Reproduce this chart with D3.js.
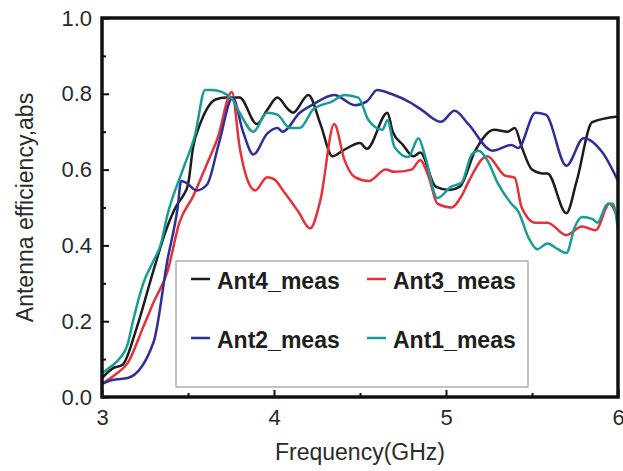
<!DOCTYPE html>
<html>
<head>
<meta charset="utf-8">
<script src="https://cdn.jsdelivr.net/npm/d3@7"></script>
<style>
  body { margin: 0; background: #fff; }
  svg { display: block; font-family: "Liberation Sans", Arial, sans-serif; }
  .tick text { fill: #2a2a2a; font-size: 22px; }
</style>
</head>
<body>
<div id="chart"></div>
<script>
// frequency (GHz) / efficiency pairs
var ant4 = [
  [3.00,0.05],[3.06,0.075],[3.12,0.085],[3.20,0.18],[3.30,0.335],[3.38,0.45],[3.44,0.51],
  [3.47,0.53],[3.50,0.56],[3.53,0.66],[3.57,0.72],[3.61,0.76],[3.66,0.785],[3.72,0.79],
  [3.80,0.79],[3.90,0.72],[3.96,0.757],[4.02,0.79],[4.08,0.76],[4.11,0.75],[4.20,0.797],
  [4.27,0.72],[4.34,0.635],[4.40,0.65],[4.50,0.67],[4.54,0.655],[4.66,0.75],[4.69,0.70],
  [4.75,0.665],[4.81,0.635],[4.85,0.645],[4.94,0.555],[5.02,0.546],[5.08,0.555],[5.17,0.65],
  [5.28,0.705],[5.36,0.70],[5.40,0.71],[5.44,0.66],[5.50,0.60],[5.56,0.59],[5.59,0.59],
  [5.70,0.485],[5.76,0.57],[5.85,0.725],[6.00,0.74]
];
var ant3 = [
  [3.00,0.035],[3.08,0.06],[3.15,0.09],[3.24,0.185],[3.30,0.25],[3.38,0.33],[3.45,0.46],
  [3.53,0.53],[3.61,0.615],[3.67,0.68],[3.755,0.805],[3.80,0.66],[3.84,0.58],[3.89,0.545],
  [3.96,0.58],[4.00,0.575],[4.06,0.54],[4.14,0.49],[4.21,0.445],[4.27,0.52],[4.35,0.72],
  [4.41,0.625],[4.47,0.58],[4.55,0.57],[4.65,0.60],[4.70,0.594],[4.80,0.60],[4.85,0.625],
  [4.90,0.58],[4.95,0.51],[5.03,0.50],[5.09,0.53],[5.13,0.567],[5.24,0.635],[5.34,0.585],
  [5.40,0.578],[5.44,0.50],[5.52,0.46],[5.59,0.46],[5.70,0.427],[5.79,0.45],[5.87,0.44],
  [5.95,0.51],[6.00,0.47]
];
var ant2 = [
  [3.00,0.035],[3.06,0.045],[3.15,0.05],[3.30,0.145],[3.38,0.36],[3.44,0.50],[3.46,0.57],
  [3.49,0.565],[3.55,0.545],[3.61,0.56],[3.68,0.67],[3.76,0.79],[3.82,0.70],[3.88,0.64],
  [3.96,0.695],[4.02,0.71],[4.05,0.70],[4.15,0.75],[4.22,0.77],[4.35,0.797],[4.47,0.77],
  [4.54,0.78],[4.60,0.81],[4.68,0.80],[4.80,0.775],[4.86,0.757],[4.97,0.726],[5.05,0.755],
  [5.13,0.72],[5.27,0.65],[5.38,0.665],[5.42,0.657],[5.52,0.75],[5.58,0.745],[5.70,0.61],
  [5.80,0.683],[5.91,0.645],[6.00,0.57]
];
var ant1 = [
  [3.00,0.063],[3.05,0.08],[3.10,0.10],[3.15,0.14],[3.18,0.20],[3.24,0.30],[3.30,0.36],
  [3.34,0.40],[3.38,0.48],[3.47,0.60],[3.54,0.69],[3.60,0.81],[3.64,0.81],[3.75,0.79],
  [3.80,0.75],[3.88,0.70],[3.96,0.75],[4.02,0.745],[4.09,0.71],[4.15,0.71],[4.23,0.76],
  [4.34,0.78],[4.41,0.797],[4.49,0.79],[4.55,0.73],[4.63,0.705],[4.66,0.73],[4.70,0.66],
  [4.78,0.633],[4.84,0.683],[4.88,0.633],[4.95,0.525],[5.03,0.555],[5.09,0.565],[5.15,0.64],
  [5.19,0.65],[5.24,0.625],[5.30,0.565],[5.38,0.51],[5.42,0.49],[5.48,0.42],[5.53,0.39],
  [5.59,0.405],[5.65,0.39],[5.70,0.38],[5.75,0.45],[5.79,0.475],[5.85,0.47],[5.88,0.46],
  [5.94,0.51],[5.97,0.51],[6.00,0.44]
];

var xTicks = [3, 4, 5, 6],
    xMinor = [3.5, 4.5, 5.5],
    yTicks = [0, 0.2, 0.4, 0.6, 0.8, 1.0],
    yMinor = [0.1, 0.3, 0.5, 0.7, 0.9];

var series = [
  {name: "Ant4_meas", data: ant4, color: "#1c1c1c"},
  {name: "Ant3_meas", data: ant3, color: "#e5323a"},
  {name: "Ant2_meas", data: ant2, color: "#2f2f98"},
  {name: "Ant1_meas", data: ant1, color: "#199c98"}
];

var w = 623, h = 471,
    plotL = 102, plotR = 618, plotT = 18, plotB = 397;

var svg = d3.select("#chart").append("svg")
  .attr("width", w)
  .attr("height", h);

var x = d3.scaleLinear().domain([3, 6]).range([plotL, plotR]);
var y = d3.scaleLinear().domain([0, 1]).range([plotB, plotT]);

// lines
var line = d3.line()
  .x(function(d) { return x(d[0]); })
  .y(function(d) { return y(d[1]); })
  .curve(d3.curveMonotoneX);

svg.append("g").selectAll("path")
  .data(series)
  .enter().append("path")
    .attr("d", function(d) { return line(d.data); })
    .attr("fill", "none")
    .attr("stroke", function(d) { return d.color; })
    .attr("stroke-width", 2.5)
    .attr("stroke-linejoin", "round");

// axes, ticks pointing inward
svg.append("g")
  .attr("transform", "translate(0," + plotB + ")")
  .call(d3.axisBottom(x).tickValues(xTicks).tickFormat(d3.format("d"))
    .tickSizeInner(-7).tickSizeOuter(0).tickPadding(12));
svg.append("g")
  .attr("transform", "translate(0," + plotB + ")")
  .call(d3.axisBottom(x).tickValues(xMinor).tickFormat("")
    .tickSizeInner(-4).tickSizeOuter(0));

svg.append("g")
  .attr("transform", "translate(" + plotL + ",0)")
  .call(d3.axisLeft(y).tickValues(yTicks).tickFormat(d3.format(".1f"))
    .tickSizeInner(-7).tickSizeOuter(0).tickPadding(10));
svg.append("g")
  .attr("transform", "translate(" + plotL + ",0)")
  .call(d3.axisLeft(y).tickValues(yMinor).tickFormat("")
    .tickSizeInner(-4).tickSizeOuter(0));

svg.selectAll(".domain").remove();
svg.selectAll(".tick line").attr("stroke", "#111").attr("stroke-width", 2);

// frame
svg.append("rect")
  .attr("x", plotL)
  .attr("y", plotT)
  .attr("width", plotR - plotL)
  .attr("height", plotB - plotT)
  .attr("fill", "none")
  .attr("stroke", "#111")
  .attr("stroke-width", 3.5);

// axis titles
svg.append("text")
  .attr("x", (plotL + plotR) / 2)
  .attr("y", 460)
  .attr("text-anchor", "middle")
  .style("font-size", "23px")
  .style("fill", "#2a2a2a")
  .text("Frequency(GHz)");

svg.append("text")
  .attr("transform", "translate(33," + ((plotT + plotB) / 2) + ") rotate(-90)")
  .attr("text-anchor", "middle")
  .style("font-size", "23px")
  .style("fill", "#2a2a2a")
  .text("Antenna efficiency,abs");

// legend
var legend = svg.append("g");
legend.append("rect")
  .attr("x", 176)
  .attr("y", 261)
  .attr("width", 352)
  .attr("height", 126)
  .attr("fill", "#fff")
  .attr("stroke", "#9a9a9a")
  .attr("stroke-width", 1.2);

var legendPos = [[191, 279], [367, 279], [191, 338], [367, 338]];

var item = legend.selectAll("g.item")
  .data(series)
  .enter().append("g")
    .attr("class", "item")
    .attr("transform", function(d, i) {
      return "translate(" + legendPos[i][0] + "," + legendPos[i][1] + ")";
    });

item.append("line")
  .attr("x1", 0).attr("x2", 19)
  .attr("stroke", function(d) { return d.color; })
  .attr("stroke-width", 2.5);

item.append("text")
  .attr("x", 26)
  .attr("y", 3)
  .attr("dy", "0.32em")
  .style("font-size", "23px")
  .style("font-weight", "bold")
  .style("fill", "#1e1e1e")
  .text(function(d) { return d.name; });
</script>
</body>
</html>
